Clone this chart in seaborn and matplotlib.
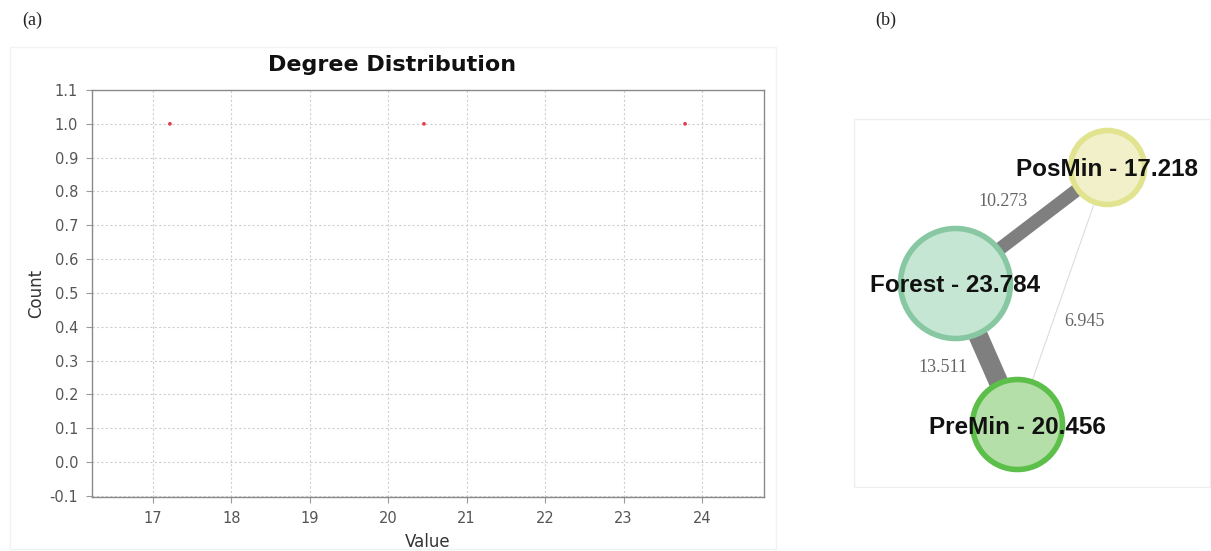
import matplotlib
matplotlib.use("Agg")
import matplotlib.pyplot as plt
import matplotlib.patches as mpatches
import pandas as pd
import seaborn as sns

# (a) degree distribution values
degree_values = [17.218, 20.456, 23.784]
degree_counts = [1.0, 1.0, 1.0]
x_ticks = [17, 18, 19, 20, 21, 22, 23, 24]
y_ticks = [-0.1, 0.0, 0.1, 0.2, 0.3, 0.4, 0.5, 0.6, 0.7, 0.8, 0.9, 1.0, 1.1]

# (b) network: nodes, weighted degree, layout position
node_names = ["PosMin", "Forest", "PreMin"]
node_degree = [17.218, 23.784, 20.456]
node_x = [1107, 955, 1017]
node_y = [167, 283, 424]
edge_src = ["PosMin", "Forest", "PosMin"]
edge_dst = ["Forest", "PreMin", "PreMin"]
edge_weight = [10.273, 13.511, 6.945]

sns.set_theme(style="white")
plt.rcParams["font.family"] = ["DejaVu Sans"]

fig = plt.figure(figsize=(12.11, 5.51), dpi=100)

# ---- panel (a) ----
ax = fig.add_axes([92 / 1211, 1 - 497 / 551, 672 / 1211, 407 / 551])
df = pd.DataFrame({"Value": degree_values, "Count": degree_counts})
sns.scatterplot(data=df, x="Value", y="Count", ax=ax, color="#e8384a",
                s=7, edgecolor="none", zorder=3)
ax.set_xlim(16.225, 24.79)
ax.set_ylim(-0.103, 1.1)
ax.set_xticks(x_ticks)
ax.set_yticks(y_ticks)
ax.set_yticklabels([f"{v:.1f}" for v in y_ticks])
ax.grid(True, color="#cfcfcf", linestyle=(0, (2, 2)), linewidth=0.8)
for s in ax.spines.values():
    s.set_color("#8a8a8a")
    s.set_linewidth(1.0)
ax.tick_params(axis="both", colors="#9a9a9a", labelcolor="#555555",
               labelsize=10.5, length=4, width=0.8, direction="out",
               bottom=True, left=True, pad=6)
ax.set_xlabel("Value", fontsize=12, color="#333333", labelpad=5)
ax.set_ylabel("Count", fontsize=12, color="#333333", labelpad=3)

fig.text(392 / 1211, 1 - 65 / 551, "Degree Distribution", fontsize=16,
         fontweight="bold", color="#111111", ha="center", va="center")

fig.patches.append(mpatches.Rectangle((10 / 1211, 1 - 549 / 551), 766 / 1211,
                                      502 / 551, transform=fig.transFigure,
                                      fill=False, edgecolor="#f2f2f2",
                                      linewidth=1, zorder=0))

fig.text(22 / 1211, 1 - 20 / 551, "(a)", fontsize=13, family="Liberation Serif",
         va="center", ha="left", color="#222222")
fig.text(875 / 1211, 1 - 20 / 551, "(b)", fontsize=13, family="Liberation Serif",
         va="center", ha="left", color="#222222")

# ---- panel (b) ----
bx = fig.add_axes([853 / 1211, 1 - 488 / 551, 358 / 1211, 370 / 551])
bx.set_axis_off()
bx.add_patch(mpatches.Rectangle((854, 119), 356, 368, fill=False,
                                edgecolor="#efefef", linewidth=1))

pos = {n: (x, y) for n, x, y in zip(node_names, node_x, node_y)}
edge_width = {10.273: 9.5, 13.511: 14.0, 6.945: 0.8}
edge_color = {10.273: "#7f7f7f", 13.511: "#7f7f7f", 6.945: "#dddddd"}
for a, b, w in zip(edge_src, edge_dst, edge_weight):
    (x0, y0), (x1, y1) = pos[a], pos[b]
    bx.plot([x0, x1], [y0, y1], color=edge_color[w], linewidth=edge_width[w],
            solid_capstyle="butt", zorder=1)

label_pos = {10.273: (1003, 201), 13.511: (943, 367), 6.945: (1084, 322)}
for w in edge_weight:
    lx, ly = label_pos[w]
    bx.text(lx, ly, f"{w:.3f}", fontsize=13, family="Liberation Serif",
            color="#666666", ha="center", va="center", zorder=4)

node_fill = {"PosMin": "#f1f0c9", "Forest": "#c5e6d2", "PreMin": "#b4dfa8"}
node_edge = {"PosMin": "#e2e38e", "Forest": "#87c8a2", "PreMin": "#5cbf4a"}
node_df = pd.DataFrame({"name": node_names, "x": node_x, "y": node_y,
                        "degree": node_degree})
radius_px = {"PosMin": 37, "Forest": 55, "PreMin": 45}
for _, r in node_df.iterrows():
    d = 2 * radius_px[r["name"]] * 0.72
    sns.scatterplot(x=[r["x"]], y=[r["y"]], ax=bx, s=d ** 2,
                    color=node_fill[r["name"]], edgecolor=node_edge[r["name"]],
                    linewidth=4, zorder=2, legend=False)
    bx.text(r["x"], r["y"] + 3, f"{r['name']} - {r['degree']:.3f}",
            fontsize=17.5, fontweight="bold", family="Liberation Sans",
            color="#111111", ha="center", va="center", zorder=5)
bx.set_xlim(853, 1211)
bx.set_ylim(488, 118)

fig.savefig("out.png", dpi=100)
